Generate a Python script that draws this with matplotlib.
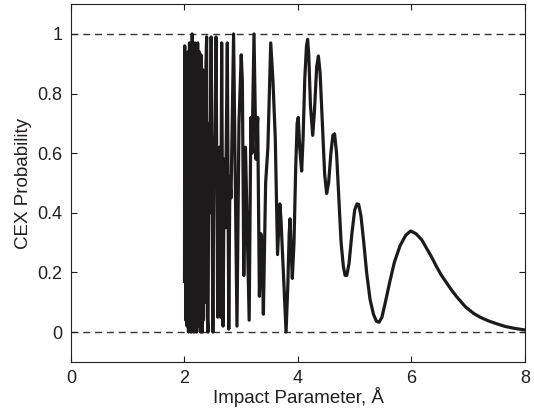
import matplotlib
matplotlib.use('Agg')
import matplotlib.pyplot as plt

# impact parameter (Angstrom) and CEX probability
impactParam = [
    2.000, 2.004, 2.010, 2.016, 2.022, 2.028, 2.034, 2.040, 2.046, 2.052,
    2.058, 2.064, 2.070, 2.076, 2.082, 2.088, 2.094, 2.100, 2.106, 2.112,
    2.118, 2.124, 2.130, 2.136, 2.142, 2.148, 2.154, 2.160, 2.166, 2.172,
    2.178, 2.184, 2.190, 2.196, 2.202, 2.208, 2.214, 2.220, 2.226, 2.232,
    2.238, 2.244, 2.250, 2.258, 2.266, 2.274, 2.282, 2.290, 2.298, 2.306,
    2.314, 2.322, 2.330, 2.338, 2.346, 2.356, 2.366, 2.378, 2.390, 2.402,
    2.415, 2.430, 2.445, 2.470, 2.500, 2.520, 2.530, 2.555, 2.585, 2.600,
    2.615, 2.635, 2.655, 2.680, 2.700, 2.720, 2.755, 2.780, 2.800, 2.820,
    2.865, 2.895, 2.925, 2.960, 3.000, 3.020, 3.045, 3.075, 3.100, 3.140,
    3.170, 3.190, 3.225, 3.260, 3.290, 3.320, 3.345, 3.365, 3.390, 3.430,
    3.470, 3.520, 3.560, 3.600, 3.640, 3.680, 3.700, 3.790,
    3.820, 3.845, 3.860, 3.875, 3.900, 3.930, 3.960, 3.985, 4.005, 4.030,
    4.065, 4.090, 4.120, 4.150, 4.170, 4.190, 4.220, 4.260, 4.290, 4.330,
    4.360, 4.390, 4.430, 4.470, 4.505, 4.540, 4.580, 4.615, 4.645, 4.680,
    4.720, 4.760, 4.800, 4.830, 4.860, 4.900, 4.950, 5.000, 5.040, 5.070,
    5.110, 5.160, 5.210, 5.270, 5.330, 5.380, 5.430, 5.480, 5.540, 5.620,
    5.700, 5.800, 5.900, 5.985, 6.080, 6.180, 6.270, 6.360, 6.440, 6.530,
    6.620, 6.710, 6.800, 6.950, 7.100, 7.210, 7.350, 7.500, 7.650, 7.800,
    8.000]
cexProb = [
    0.17, 0.96, 0.30, 0.92, 0.04, 0.88, 0.10, 0.93, 0.02, 0.86,
    0.20, 0.94, 0.00, 0.90, 0.12, 0.97, 0.05, 0.87, 0.25, 0.95,
    0.00, 0.88, 0.08, 1.00, 0.03, 0.85, 0.15, 0.95, 0.00, 0.90,
    0.18, 0.97, 0.05, 0.84, 0.22, 0.96, 0.00, 0.92, 0.10, 0.97,
    0.02, 0.80, 0.25, 0.94, 0.05, 0.88, 0.00, 0.93, 0.15, 0.80,
    0.00, 0.88, 0.04, 0.75, 0.12, 0.60, 0.10, 0.90, 0.99, 0.05,
    0.00, 0.70, 0.40, 0.99, 0.00, 0.65, 0.50, 0.99, 0.05, 0.45,
    0.62, 0.05, 0.97, 0.02, 0.58, 0.35, 0.97, 0.01, 0.52, 0.45,
    1.00, 0.50, 0.02, 0.70, 0.93, 0.84, 0.19, 0.62, 0.40, 0.04,
    0.72, 0.60, 1.00, 0.58, 0.72, 0.12, 0.33, 0.30, 0.06, 0.50,
    0.62, 0.97, 0.84, 0.65, 0.26, 0.43, 0.38, 0.00,
    0.15, 0.33, 0.38, 0.30, 0.18, 0.30, 0.55, 0.70, 0.72, 0.62,
    0.54, 0.65, 0.85, 0.96, 0.982, 0.93, 0.76, 0.66, 0.74, 0.89,
    0.926, 0.87, 0.70, 0.53, 0.465, 0.50, 0.60, 0.66, 0.665, 0.60,
    0.45, 0.30, 0.22, 0.19, 0.19, 0.23, 0.33, 0.41, 0.43, 0.428,
    0.39, 0.30, 0.20, 0.11, 0.06, 0.037, 0.033, 0.05, 0.10, 0.17,
    0.235, 0.29, 0.325, 0.339, 0.33, 0.31, 0.28, 0.25, 0.22, 0.19,
    0.165, 0.14, 0.118, 0.085, 0.062, 0.05, 0.038, 0.028, 0.019, 0.013,
    0.007]

xTicks = [0, 2, 4, 6, 8]
yTicks = [0, 0.2, 0.4, 0.6, 0.8, 1]
yTickLabels = ['0', '0.2', '0.4', '0.6', '0.8', '1']

textColor = '#231f20'
plt.rcParams['font.family'] = ['Liberation Sans', 'DejaVu Sans']

fig = plt.figure(figsize=(5.34, 4.15), dpi=100)
plot = fig.add_axes([0.133, 0.128, 0.850, 0.862])

plot.axhline(1, color='#333333', linestyle=(0, (5, 3.5)), linewidth=1.0, zorder=1)
plot.axhline(0, color='#333333', linestyle=(0, (5, 3.5)), linewidth=1.0, zorder=1)
plot.plot(impactParam, cexProb, color='#1c1a1b', linewidth=2.3, zorder=2)

plot.set_xlim(0, 8)
plot.set_ylim(-0.1, 1.1)
plot.set_xticks(xTicks)
plot.set_yticks(yTicks)
plot.set_yticklabels(yTickLabels)
plot.tick_params(direction='in', length=4, width=0.8, top=True, right=True,
                 labelsize=13, colors=textColor, pad=6)
for spine in plot.spines.values():
    spine.set_color(textColor)
    spine.set_linewidth(0.8)

plot.set_xlabel('Impact Parameter, Å', fontsize=13.5, color=textColor, labelpad=0)
plot.set_ylabel('CEX Probability', fontsize=13.5, color=textColor, labelpad=4)

fig.savefig('out.png', dpi=100)
